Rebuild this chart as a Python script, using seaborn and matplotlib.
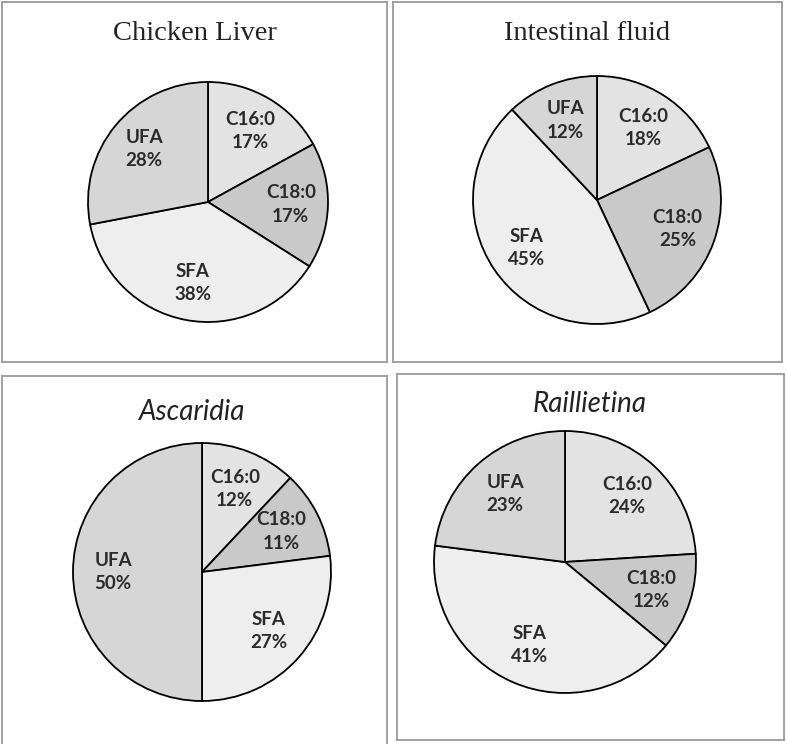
import matplotlib.pyplot as plt
import seaborn as sns

# fatty acid composition (%) per sample
categories = ["C16:0", "C18:0", "SFA", "UFA"]
chicken_liver = [17, 17, 38, 28]
intestinal_fluid = [18, 25, 45, 12]
ascaridia = [12, 11, 27, 50]
raillietina = [24, 12, 41, 23]

titles = ["Chicken Liver", "Intestinal fluid", "Ascaridia", "Raillietina"]
series = [chicken_liver, intestinal_fluid, ascaridia, raillietina]

sns.set_style("white")
plt.rcParams['font.family'] = ['Lato', 'DejaVu Sans']

colors = ["#e3e3e3", "#c9c9c9", "#eeeeee", "#d6d6d6"]

W, H = 787, 744
fig = plt.figure(figsize=(W / 100, H / 100), dpi=100)


def px_axes(x0, y0, x1, y1, **kw):
    return fig.add_axes([x0 / W, 1 - y1 / H, (x1 - x0) / W, (y1 - y0) / H], **kw)


# box (x0, y0, x1, y1), pie centre, radius, title position, title style
layout = [
    dict(box=(2, 2, 387, 362), c=(208, 202), r=120, t=(195, 34), serif=True),
    dict(box=(393, 2, 782, 362), c=(597, 200), r=124, t=(587, 34), serif=True),
    dict(box=(2, 376, 387, 746), c=(202, 572), r=129, t=(192, 412), serif=False),
    dict(box=(397, 374, 784, 740), c=(565, 562), r=131, t=(590, 404), serif=False),
]

for title, vals, lay in zip(titles, series, layout):
    box = px_axes(*lay['box'])
    box.set_xticks([])
    box.set_yticks([])
    for sp in box.spines.values():
        sp.set_color("#9a9a9a")
        sp.set_linewidth(1.3)

    cx, cy = lay['c']
    r = lay['r']
    ax = px_axes(cx - r, cy - r, cx + r, cy + r)
    ax.set_facecolor("none")
    labels = [f"{n}\n{v}%" for n, v in zip(categories, vals)]
    wedges, texts = ax.pie(vals, labels=labels, colors=colors, startangle=90,
                           counterclock=False, labeldistance=0.69,
                           wedgeprops=dict(edgecolor="black", linewidth=1.3),
                           textprops=dict(fontsize=13.5, fontweight="bold",
                                          color="#2a2a2a", linespacing=1.45))
    for w in wedges:
        w.set_clip_on(False)
    for t in texts:
        t.set_horizontalalignment("center")
        t.set_verticalalignment("center")
    ax.set_xlim(-1, 1)
    ax.set_ylim(-1, 1)
    ax.axis("off")

    tx, ty = lay['t']
    if lay['serif']:
        fig.text(tx / W, 1 - ty / H, title, ha="center", va="center",
                 fontsize=20.5, family=["Liberation Serif", "DejaVu Serif"], color="#222222")
    else:
        fig.text(tx / W, 1 - ty / H, title, ha="center", va="center",
                 fontsize=20, style="italic", color="#222222")

fig.savefig("out.png", dpi=100)
